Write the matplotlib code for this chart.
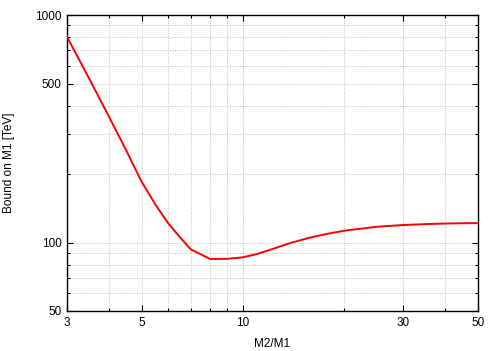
import numpy as np
import matplotlib
matplotlib.use("Agg")
import matplotlib.pyplot as plt
from matplotlib.ticker import FixedLocator, NullFormatter

plt.rcParams['font.family'] = ['Liberation Sans', 'DejaVu Sans']

# ratio M2/M1 and bound on M1 [TeV]
ratio = [3, 3.5, 4, 4.5, 5, 5.5, 6, 6.5, 7, 8, 9, 10, 11, 12, 13, 14, 16, 18, 20, 25, 30, 35, 40, 50]
bound = [803, 522, 357, 254, 185, 146.5, 121.4, 105.5, 93.3, 84.6, 84.8, 86.1, 89.0, 92.7,
         96.5, 100.0, 105.5, 109.5, 112.7, 117.3, 119.4, 120.5, 121.2, 121.8]

xmajor = [3, 5, 10, 30, 50]
xminor = [4, 6, 7, 8, 9, 20, 40]
ymajor = [50, 100, 500, 1000]
yminor = [60, 70, 80, 90, 200, 300, 400, 600, 700, 800, 900]

fig = plt.figure(figsize=(5.0, 3.51), dpi=100)
ax = fig.add_axes([0.134, 0.114, 0.822, 0.843])

ax.plot(ratio, bound, color='#ff0000', lw=1.4, zorder=3)

ax.set_xscale('log')
ax.set_yscale('log')
ax.set_xlim(3, 50)
ax.set_ylim(50, 1000)

ax.xaxis.set_major_locator(FixedLocator(xmajor))
ax.xaxis.set_minor_locator(FixedLocator(xminor))
ax.yaxis.set_major_locator(FixedLocator(ymajor))
ax.yaxis.set_minor_locator(FixedLocator(yminor))
ax.set_xticklabels([str(v) for v in xmajor])
ax.set_yticklabels([str(v) for v in ymajor])
ax.xaxis.set_minor_formatter(NullFormatter())
ax.yaxis.set_minor_formatter(NullFormatter())

ax.tick_params(which='both', direction='in', top=True, right=True, labelsize=8.5, width=0.8)
ax.tick_params(which='major', length=4, pad=4)
ax.tick_params(which='minor', length=2)

ax.grid(True, which='both', color='#a8a8a8', linestyle=(0, (1, 2)), lw=0.6)
for s in ax.spines.values():
    s.set_linewidth(1.0)

ax.set_xlabel('M2/M1', fontsize=8.5, labelpad=7)
ax.set_ylabel('Bound on M1 [TeV]', fontsize=8.5, labelpad=14)

fig.savefig('out.png', dpi=100)
